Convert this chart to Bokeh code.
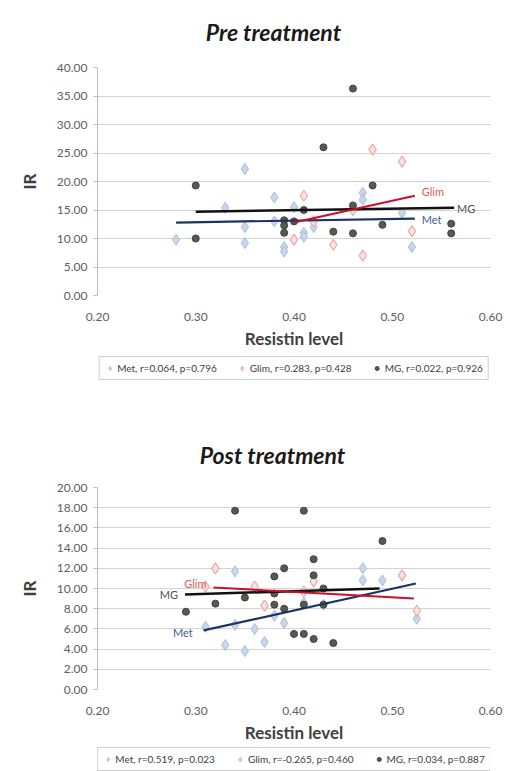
from bokeh.plotting import figure
from bokeh.models import Legend, LegendItem, FixedTicker, NumeralTickFormatter, Label, Spacer
from bokeh.layouts import column
from bokeh.embed import file_html
from bokeh.resources import INLINE

FONT = "Lato"

# ---------------- data: Pre treatment ----------------
pre_met_x = [0.28, 0.33, 0.35, 0.35, 0.35, 0.38, 0.38, 0.39, 0.39, 0.40, 0.41, 0.41, 0.42, 0.47, 0.47, 0.51, 0.52]
pre_met_y = [9.8, 15.4, 22.2, 12.0, 9.2, 17.2, 13.0, 8.5, 7.7, 15.5, 11.0, 10.3, 12.0, 18.0, 16.8, 14.5, 8.5]
pre_glim_x = [0.40, 0.41, 0.42, 0.44, 0.46, 0.47, 0.48, 0.51, 0.52]
pre_glim_y = [9.8, 17.5, 13.0, 8.9, 15.0, 7.0, 25.6, 23.5, 11.3]
pre_mg_x = [0.30, 0.30, 0.39, 0.39, 0.39, 0.40, 0.41, 0.43, 0.44, 0.46, 0.46, 0.46, 0.48, 0.49, 0.56, 0.56]
pre_mg_y = [19.3, 10.0, 13.2, 12.3, 11.0, 13.0, 15.0, 26.0, 11.2, 36.3, 15.8, 10.9, 19.3, 12.4, 12.6, 10.9]
pre_met_fit_x = [0.28, 0.523]
pre_met_fit_y = [12.8, 13.5]
pre_glim_fit_x = [0.40, 0.523]
pre_glim_fit_y = [12.8, 17.5]
pre_mg_fit_x = [0.30, 0.563]
pre_mg_fit_y = [14.7, 15.4]
pre_labels = ["Met, r=0.064, p=0.796", "Glim, r=0.283, p=0.428", "MG, r=0.022, p=0.926"]

# ---------------- data: Post treatment ----------------
post_met_x = [0.31, 0.33, 0.34, 0.34, 0.35, 0.36, 0.37, 0.38, 0.39, 0.41, 0.43, 0.47, 0.47, 0.49, 0.525]
post_met_y = [6.2, 4.4, 11.7, 6.4, 3.8, 6.0, 4.7, 7.3, 6.6, 8.6, 8.4, 12.0, 10.8, 10.8, 7.0]
post_glim_x = [0.31, 0.32, 0.36, 0.37, 0.41, 0.42, 0.51, 0.525]
post_glim_y = [10.2, 12.0, 10.2, 8.3, 9.7, 10.7, 11.3, 7.8]
post_mg_x = [0.29, 0.32, 0.34, 0.35, 0.38, 0.38, 0.38, 0.39, 0.39, 0.40, 0.41, 0.41, 0.41, 0.42, 0.42, 0.42, 0.43, 0.43, 0.44, 0.49]
post_mg_y = [7.7, 8.5, 17.7, 9.1, 11.2, 9.5, 8.4, 12.0, 8.0, 5.5, 5.5, 17.7, 8.4, 12.9, 11.3, 5.0, 10.0, 8.4, 4.6, 14.7]
post_met_fit_x = [0.308, 0.524]
post_met_fit_y = [5.85, 10.5]
post_glim_fit_x = [0.318, 0.522]
post_glim_fit_y = [10.1, 9.0]
post_mg_fit_x = [0.289, 0.487]
post_mg_fit_y = [9.4, 10.0]
post_labels = ["Met, r=0.519, p=0.023", "Glim, r=-0.265, p=0.460", "MG, r=0.034, p=0.887"]

x_ticks = [0.2, 0.3, 0.4, 0.5, 0.6]
pre_y_ticks = [0, 5, 10, 15, 20, 25, 30, 35, 40]
post_y_ticks = [0, 2, 4, 6, 8, 10, 12, 14, 16, 18, 20]

MET_FILL, MET_LINE = "#c9d5ea", "#a9bddb"
GLIM_FILL, GLIM_LINE = "#fbe3e3", "#e8aaaa"
MG_FILL, MG_LINE = "#555a50", "#3f433b"
MET_FIT, GLIM_FIT, MG_FIT = "#1f3363", "#c8102e", "#111111"

W = 518
FRAME_L, FRAME_R = 97, 490   # frames of all figures in the column are aligned


def add_series(p, met, glim, mg, size_d=11, size_c=7):
    r_met = p.scatter(met[0], met[1], marker="diamond", size=size_d,
                      fill_color=MET_FILL, line_color=MET_LINE, line_width=1)
    r_glim = p.scatter(glim[0], glim[1], marker="diamond", size=size_d,
                       fill_color=GLIM_FILL, line_color=GLIM_LINE, line_width=1.2)
    r_mg = p.scatter(mg[0], mg[1], marker="circle", size=size_c,
                     fill_color=MG_FILL, line_color=MG_LINE, line_width=1)
    return r_met, r_glim, r_mg


def blank(height, x_range, y_range, left=0, bottom=0):
    q = figure(width=W, height=height, output_backend="svg", toolbar_location=None,
               x_range=x_range, y_range=y_range,
               x_axis_location=None, y_axis_location=None,
               min_border_left=left, min_border_right=0, min_border_top=0,
               min_border_bottom=bottom)
    q.title = None
    q.grid.grid_line_color = None
    q.outline_line_color = None
    q.border_fill_color = "white"
    q.background_fill_color = "white"
    return q


def make_header(title, height, cx, cy):
    q = blank(height, (FRAME_L, FRAME_R), (0, height))
    q.add_layout(Label(x=cx, y=cy, text=title, text_font=FONT,
                       text_font_style="bold italic", text_font_size="23px",
                       text_color="#1a1a1a", text_align="center",
                       text_baseline="middle"))
    return q


def make_chart(ymax, yticks, met, glim, mg, fits, frame_h, top, bottom, annotations):
    p = figure(frame_width=393, frame_height=frame_h,
               output_backend="svg", toolbar_location=None,
               x_range=(0.2, 0.6), y_range=(0, ymax),
               min_border_left=97, min_border_right=28,
               min_border_top=top, min_border_bottom=bottom)
    p.title = None
    p.outline_line_color = None
    p.border_fill_color = "white"

    p.xgrid.grid_line_color = None
    p.ygrid.grid_line_color = "#d4d4d4"

    p.xaxis.ticker = FixedTicker(ticks=x_ticks)
    p.xaxis.formatter = NumeralTickFormatter(format="0.00")
    p.xaxis.axis_line_color = None
    p.xaxis.major_tick_line_color = None
    p.xaxis.minor_tick_line_color = None
    p.xaxis.major_label_standoff = 11
    p.xaxis.axis_label = "Resistin level"
    p.xaxis.axis_label_standoff = 4

    p.yaxis.ticker = FixedTicker(ticks=yticks)
    p.yaxis.formatter = NumeralTickFormatter(format="0.00")
    p.yaxis.axis_line_color = "#bfbfbf"
    p.yaxis.major_tick_line_color = "#bfbfbf"
    p.yaxis.major_tick_out = 4
    p.yaxis.major_tick_in = 0
    p.yaxis.minor_tick_line_color = None
    p.yaxis.major_label_standoff = 6
    p.yaxis.axis_label = "IR"
    p.yaxis.axis_label_standoff = 14

    for ax in (p.xaxis, p.yaxis):
        ax.major_label_text_font = FONT
        ax.major_label_text_font_size = "12px"
        ax.major_label_text_color = "#606060"
        ax.axis_label_text_font = FONT
        ax.axis_label_text_font_style = "bold"
        ax.axis_label_text_font_size = "17px"
        ax.axis_label_text_color = "#404040"

    add_series(p, met, glim, mg)

    (mfx, mfy), (gfx, gfy), (sfx, sfy) = fits
    p.line(sfx, sfy, line_color=MG_FIT, line_width=2.5)
    p.line(mfx, mfy, line_color=MET_FIT, line_width=2.2)
    p.line(gfx, gfy, line_color=GLIM_FIT, line_width=2)

    for (txt, x, y, color, align) in annotations:
        p.add_layout(Label(x=x, y=y, text=txt, text_color=color, text_font=FONT,
                           text_font_size="11px", text_align=align,
                           text_baseline="middle"))
    return p


def make_legend(labels, met, glim, mg, height, below):
    # series drawn off-range (hidden); only used for the legend glyphs
    q = blank(height, (0, 1), (-2, -1), left=19, bottom=below)
    r_met, r_glim, r_mg = add_series(q, met, glim, mg, size_d=9, size_c=6)
    legend = Legend(items=[LegendItem(label=labels[0], renderers=[r_met]),
                           LegendItem(label=labels[1], renderers=[r_glim]),
                           LegendItem(label=labels[2], renderers=[r_mg])],
                    orientation="horizontal", location="center",
                    label_text_font=FONT, label_text_font_size="10px",
                    label_text_color="#404040", label_height=10,
                    glyph_width=10, glyph_height=10, spacing=20,
                    padding=5, margin=0, border_line_color="#a0a0a0",
                    label_standoff=3)
    q.add_layout(legend)
    return q


head1 = make_header("Pre treatment", 48, 273, 17)
p1 = make_chart(40, pre_y_ticks,
                (pre_met_x, pre_met_y), (pre_glim_x, pre_glim_y), (pre_mg_x, pre_mg_y),
                ((pre_met_fit_x, pre_met_fit_y), (pre_glim_fit_x, pre_glim_fit_y),
                 (pre_mg_fit_x, pre_mg_fit_y)),
                228, 19, 55,
                [("Glim", 0.530, 18.3, "#e05a5a", "left"),
                 ("MG", 0.566, 15.3, "#505050", "left"),
                 ("Met", 0.530, 13.4, "#4a5a96", "left")])
leg1 = make_legend(pre_labels, (pre_met_x, pre_met_y), (pre_glim_x, pre_glim_y),
                   (pre_mg_x, pre_mg_y), 40, 6)

head2 = make_header("Post treatment", 46, 272, 25)
p2 = make_chart(20, post_y_ticks,
                (post_met_x, post_met_y), (post_glim_x, post_glim_y), (post_mg_x, post_mg_y),
                ((post_met_fit_x, post_met_fit_y), (post_glim_fit_x, post_glim_fit_y),
                 (post_mg_fit_x, post_mg_fit_y)),
                202, 8, 55,
                [("Glim", 0.311, 10.5, "#e05a5a", "right"),
                 ("MG", 0.282, 9.4, "#505050", "right"),
                 ("Met", 0.297, 5.6, "#4a5a96", "right")])
leg2 = make_legend(post_labels, (post_met_x, post_met_y), (post_glim_x, post_glim_y),
                   (post_mg_x, post_mg_y), 28, 0)

layout = column(head1, p1, leg1, Spacer(height=42), head2, p2, leg2)
open("out.html", "w").write(file_html(layout, INLINE))
